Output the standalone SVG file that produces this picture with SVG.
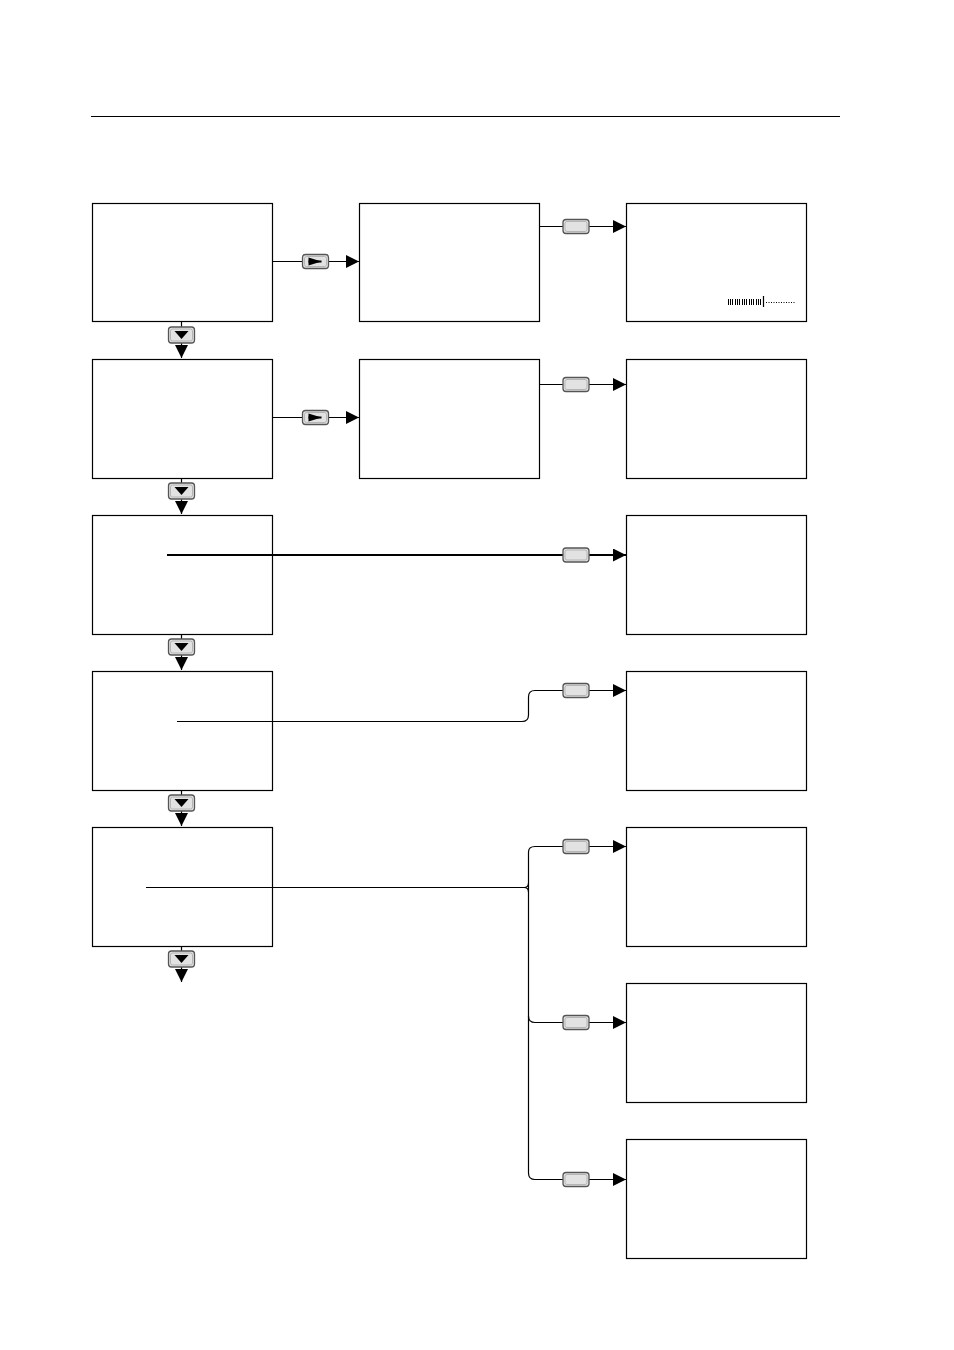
<svg xmlns="http://www.w3.org/2000/svg" width="954" height="1350" viewBox="0 0 954 1350">
<style>
.box{fill:#fff;stroke:#000;stroke-width:1.2}
.ln{fill:none;stroke:#000;stroke-width:1.2}
.lnb{fill:none;stroke:#000;stroke-width:2}
.btn{fill:#e2e2e2;stroke:#555;stroke-width:1.3}
.btni{fill:none;stroke:#aaa;stroke-width:0.8}
</style>
<defs>
<marker id="ah" viewBox="0 0 10 10" refX="10" refY="5" markerWidth="13" markerHeight="13" markerUnits="userSpaceOnUse" orient="auto">
<path d="M0,0 L10,5 L0,10 Z" fill="#000"/>
</marker>
<g id="bdown">
<rect x="-13" y="-8" width="26" height="16" rx="3" class="btn"/>
<rect x="-11" y="-6" width="22" height="12" rx="2" class="btni"/>
<path d="M-7,-4 L7,-4 L0,4 Z" fill="#000"/>
</g>
<g id="bright">
<rect x="-13" y="-7" width="26" height="14" rx="3" class="btn"/>
<rect x="-11" y="-5" width="22" height="10" rx="2" class="btni"/>
<path d="M-7,-4 L6,0 L-7,4 Z" fill="#000"/>
<rect x="-7" y="-1" width="13" height="2" fill="#000"/>
</g>
<g id="bplain">
<rect x="-13" y="-7" width="26" height="14" rx="3" class="btn"/>
<rect x="-11" y="-5" width="22" height="10" rx="2" class="btni"/>
</g>
</defs>
<line x1="91" y1="116.5" x2="840" y2="116.5" stroke="#000" stroke-width="1.2"/>

<g id="n1"><rect x="92.5" y="203.5" width="180" height="118" class="box"/></g>
<g id="n2"><rect x="92.5" y="359.5" width="180" height="119" class="box"/></g>
<g id="n3"><rect x="92.5" y="515.5" width="180" height="119" class="box"/></g>
<g id="n4"><rect x="92.5" y="671.5" width="180" height="119" class="box"/></g>
<g id="n5"><rect x="92.5" y="827.5" width="180" height="119" class="box"/></g>
<g id="n6"><rect x="359.5" y="203.5" width="180" height="118" class="box"/></g>
<g id="n7"><rect x="359.5" y="359.5" width="180" height="119" class="box"/></g>
<g id="n8"><rect x="626.5" y="203.5" width="180" height="118" class="box"/>
<g stroke="#000" stroke-width="1">
<path d="M728.5,299v6M730.5,299v6M732.5,299v6M735.5,299v6M737.5,299v6M739.5,299v6M742.5,299v6M744.5,299v6M746.5,299v6M749.5,299v6M751.5,299v6M753.5,299v6M756.5,299v6M758.5,299v6M760.5,299v6"/>
<path d="M763.5,296v11" stroke-width="1.2"/>
</g>
<line x1="766" y1="302.5" x2="796" y2="302.5" stroke="#000" stroke-width="1" stroke-dasharray="1,1.5"/>
</g>
<g id="n9"><rect x="626.5" y="359.5" width="180" height="119" class="box"/></g>
<g id="n10"><rect x="626.5" y="515.5" width="180" height="119" class="box"/></g>
<g id="n11"><rect x="626.5" y="671.5" width="180" height="119" class="box"/></g>
<g id="n12"><rect x="626.5" y="827.5" width="180" height="119" class="box"/></g>
<g id="n13"><rect x="626.5" y="983.5" width="180" height="119" class="box"/></g>
<g id="n14"><rect x="626.5" y="1139.5" width="180" height="119" class="box"/></g>

<g id="connectors">
<line x1="181.5" y1="322" x2="181.5" y2="358" class="ln" marker-end="url(#ah)"/>
<line x1="181.5" y1="479" x2="181.5" y2="514" class="ln" marker-end="url(#ah)"/>
<line x1="181.5" y1="635" x2="181.5" y2="670" class="ln" marker-end="url(#ah)"/>
<line x1="181.5" y1="791" x2="181.5" y2="826" class="ln" marker-end="url(#ah)"/>
<line x1="181.5" y1="947" x2="181.5" y2="982" class="ln" marker-end="url(#ah)"/>
<use href="#bdown" x="181.5" y="335"/>
<use href="#bdown" x="181.5" y="491"/>
<use href="#bdown" x="181.5" y="647"/>
<use href="#bdown" x="181.5" y="803"/>
<use href="#bdown" x="181.5" y="959"/>
<line x1="273" y1="261.5" x2="359" y2="261.5" class="ln" marker-end="url(#ah)"/>
<use href="#bright" x="315.5" y="261.5"/>
<line x1="273" y1="417.5" x2="359" y2="417.5" class="ln" marker-end="url(#ah)"/>
<use href="#bright" x="315.5" y="417.5"/>
<line x1="540" y1="226.5" x2="626" y2="226.5" class="ln" marker-end="url(#ah)"/>
<use href="#bplain" x="576" y="226.5"/>
<line x1="540" y1="384.5" x2="626" y2="384.5" class="ln" marker-end="url(#ah)"/>
<use href="#bplain" x="576" y="384.5"/>
<line x1="167" y1="555" x2="626" y2="555" class="lnb" marker-end="url(#ah)"/>
<use href="#bplain" x="576" y="555"/>
<path d="M177,721.5 H522 Q528.5,721.5 528.5,715 V697 Q528.5,690.5 535,690.5 H626" class="ln" marker-end="url(#ah)"/>
<use href="#bplain" x="576" y="690.5"/>
<path d="M146,887.5 H526" class="ln"/>
<path d="M528.5,852 Q528.5,846.5 535,846.5 H626" class="ln" marker-end="url(#ah)"/>
<path d="M528.5,852 V1173 Q528.5,1179.5 535,1179.5 H626" class="ln" marker-end="url(#ah)"/>
<path d="M528.5,1016 Q528.5,1022.5 535,1022.5 H626" class="ln" marker-end="url(#ah)"/>
<path d="M524,887.5 Q528.5,887.5 528.5,883 M524,887.5 Q528.5,887.5 528.5,892" class="ln"/>
<use href="#bplain" x="576" y="846.5"/>
<use href="#bplain" x="576" y="1022.5"/>
<use href="#bplain" x="576" y="1179.5"/>
</g>
</svg>
